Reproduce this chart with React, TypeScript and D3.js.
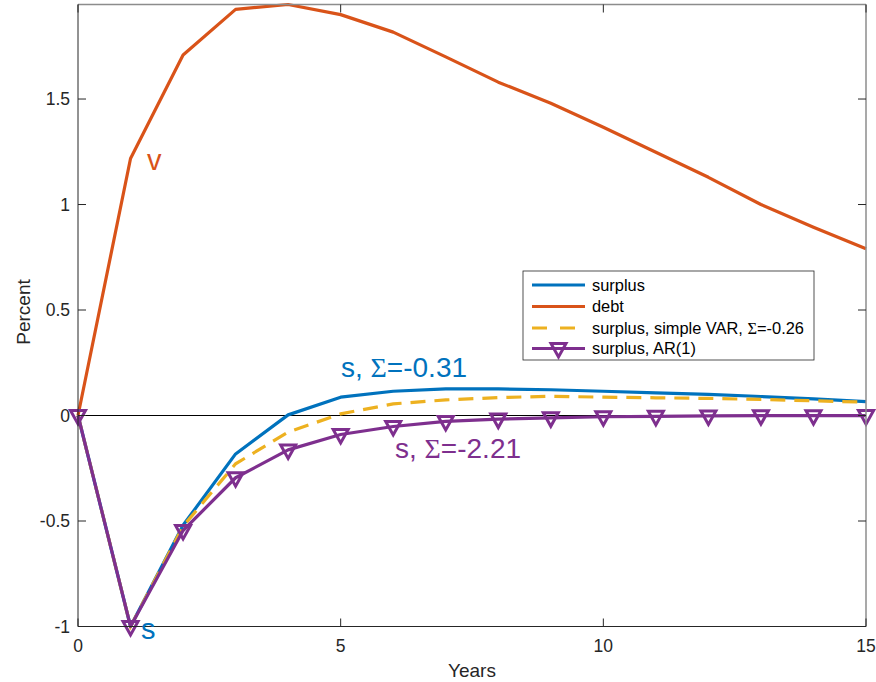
import React from "react";
import * as d3 from "d3";

const years = [0, 1, 2, 3, 4, 5, 6, 7, 8, 9, 10, 11, 12, 13, 14, 15];
const surplus = [0, -1, -0.52, -0.182, 0.003, 0.087, 0.115, 0.126, 0.126, 0.122, 0.115, 0.107, 0.1, 0.09, 0.079, 0.066];
const debt = [0, 1.218, 1.709, 1.925, 1.948, 1.9, 1.817, 1.7, 1.58, 1.48, 1.366, 1.248, 1.129, 1.0, 0.892, 0.79];
const surplusVAR = [0, -1, -0.525, -0.229, -0.079, 0.008, 0.055, 0.074, 0.085, 0.091, 0.087, 0.084, 0.081, 0.076, 0.07, 0.063];
const surplusAR1 = [0, -1, -0.545, -0.295, -0.163, -0.09, -0.052, -0.028, -0.017, -0.011, -0.006, -0.004, -0.002, -0.001, -0.001, -0.0005];

const xTicks = [0, 5, 10, 15];
const yTicks = [-1, -0.5, 0, 0.5, 1, 1.5];
const yTickLabels = ["-1", "-0.5", "0", "0.5", "1", "1.5"];

const legendLabels = ["surplus", "debt", "surplus, simple VAR, ", "surplus, AR(1)"];

const BLUE = "#0072BD";
const ORANGE = "#D95319";
const YELLOW = "#EDB120";
const PURPLE = "#7E2F8E";
const FONT = "'Liberation Sans', Arial, Helvetica, sans-serif";
const SERIF = "'Liberation Serif', 'DejaVu Serif', serif";

const L = 78, R = 866, T = 4.5, B = 626.5;

export default function App() {
  const x = d3.scaleLinear().domain([0, 15]).range([L, R]);
  const y = d3.scaleLinear().domain([-1, 1.948]).range([B, T]);
  const line = d3
    .line<number>()
    .x((_, i) => x(years[i]))
    .y((d) => y(d));

  const tri = (cx: number, cy: number) =>
    `M${cx - 7.5},${cy - 5}L${cx + 7.5},${cy - 5}L${cx},${cy + 8.5}Z`;

  const legendRows = [285, 306.5, 328, 348.5];

  return (
    <svg
      width={876}
      height={682}
      style={{ position: "absolute", left: 0, top: 0, background: "#fff" }}
      fontFamily={FONT}
    >
      <rect x={0} y={0} width={876} height={682} fill="#fff" />
      {/* zero line */}
      <line x1={L} x2={R} y1={y(0)} y2={y(0)} stroke="#000" strokeWidth={1} />

      {/* data */}
      <path d={line(surplus) || ""} fill="none" stroke={BLUE} strokeWidth={3.2} strokeLinejoin="round" />
      <path d={line(debt) || ""} fill="none" stroke={ORANGE} strokeWidth={3.2} strokeLinejoin="round" />
      <path d={line(surplusVAR) || ""} fill="none" stroke={YELLOW} strokeWidth={3.2} strokeDasharray="15,9" />
      <path d={line(surplusAR1) || ""} fill="none" stroke={PURPLE} strokeWidth={3.2} strokeLinejoin="round" />
      {surplusAR1.map((v, i) => (
        <path key={i} d={tri(x(years[i]), y(v))} fill="none" stroke={PURPLE} strokeWidth={3} strokeLinejoin="miter" />
      ))}

      {/* frame */}
      <line x1={L} x2={R} y1={T} y2={T} stroke="#8c8c8c" strokeWidth={1.5} />
      <line x1={R} x2={R} y1={T} y2={B} stroke="#8c8c8c" strokeWidth={1.5} />
      <line x1={L} x2={L} y1={T} y2={B} stroke="#262626" strokeWidth={1} />
      <line x1={L} x2={R} y1={B} y2={B} stroke="#262626" strokeWidth={1} />

      {/* ticks */}
      {yTicks.map((t, i) => (
        <g key={"y" + i}>
          <line x1={L} x2={L + 8} y1={y(t)} y2={y(t)} stroke="#262626" strokeWidth={1} />
          <line x1={R - 8} x2={R} y1={y(t)} y2={y(t)} stroke="#262626" strokeWidth={1} />
          <text x={70} y={y(t)} dy="0.35em" textAnchor="end" fontSize={17.5} fill="#262626">
            {yTickLabels[i]}
          </text>
        </g>
      ))}
      {xTicks.map((t, i) => (
        <g key={"x" + i}>
          <line x1={x(t)} x2={x(t)} y1={B} y2={B - 8} stroke="#262626" strokeWidth={1} />
          <line x1={x(t)} x2={x(t)} y1={T} y2={T + 8} stroke="#262626" strokeWidth={1} />
          <text x={x(t)} y={652} textAnchor="middle" fontSize={17.5} fill="#262626">
            {t}
          </text>
        </g>
      ))}

      <text x={472} y={677} textAnchor="middle" fontSize={19} fill="#262626">
        Years
      </text>
      <text transform="translate(30,312) rotate(-90)" textAnchor="middle" fontSize={19} fill="#262626">
        Percent
      </text>

      {/* annotations */}
      <text x={147} y={170} fontSize={29} fill={ORANGE}>v</text>
      <text x={141} y={639} fontSize={29} fill={BLUE}>s</text>
      <text x={341} y={377} fontSize={28} fill={BLUE}>
        s, <tspan fontFamily={SERIF}>{"\u03A3"}</tspan>=-0.31
      </text>
      <text x={395} y={458} fontSize={28} fill={PURPLE}>
        s, <tspan fontFamily={SERIF}>{"\u03A3"}</tspan>=-2.21
      </text>

      {/* legend */}
      <rect x={523} y={271} width={291} height={89} fill="#fff" stroke="#262626" strokeWidth={0.8} />
      {legendRows.map((ry, i) => {
        const color = [BLUE, ORANGE, YELLOW, PURPLE][i];
        return (
          <g key={"lg" + i}>
            <line
              x1={532}
              x2={585}
              y1={ry}
              y2={ry}
              stroke={color}
              strokeWidth={3.2}
              strokeDasharray={i === 2 ? "15,13" : undefined}
            />
            {i === 3 && <path d={tri(558.5, ry)} fill="none" stroke={PURPLE} strokeWidth={3} />}
            <text x={592} y={ry} dy="0.35em" fontSize={16.4} fill="#000">
              {legendLabels[i]}
              {i === 2 && (
                <>
                  <tspan fontFamily={SERIF}>{"\u03A3"}</tspan>=-0.26
                </>
              )}
            </text>
          </g>
        );
      })}
    </svg>
  );
}
